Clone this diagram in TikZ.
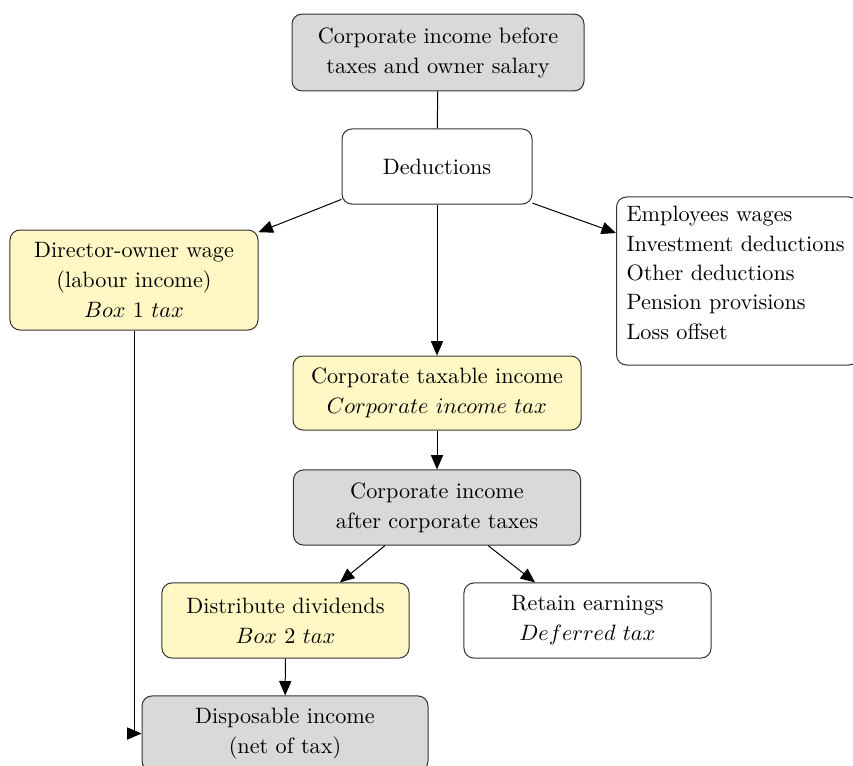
\documentclass[tikz,border=0pt]{standalone}
\usetikzlibrary{arrows.meta,calc}
\definecolor{boxgray}{RGB}{217,217,217}
\definecolor{boxyellow}{RGB}{255,248,196}
\begin{document}
\begin{tikzpicture}[x=0.45pt,y=-0.45pt,
  every node/.style={font=\fontsize{10}{13.5}\selectfont},
  basebox/.style={draw=black!80, rounded corners=4.5pt, align=center, inner sep=0pt, line width=0.45pt},
  graybox/.style={basebox, fill=boxgray},
  yellowbox/.style={basebox, fill=boxyellow},
  whitebox/.style={basebox, fill=white},
  arr/.style={-{Triangle[length=6.5pt,width=5.5pt]}, line width=0.45pt},
  con/.style={line width=0.45pt}]
\useasboundingbox (0,0) rectangle (853,765);
\node[graybox, minimum width=131.4pt, minimum height=34.6pt] (top) at (438,52.5)
  {Corporate income before\\taxes and owner salary};
\node[whitebox, minimum width=85.5pt, minimum height=33.8pt] (ded) at (437,166.5) {Deductions};
\node[yellowbox, minimum width=111.6pt, minimum height=45pt] (dir) at (134,280)
  {Director-owner wage\\(labour income)\\$Box\ 1\ tax$};
\node[whitebox, anchor=west, align=left, inner xsep=4.5pt, minimum height=75.6pt, text width=100pt,
  font=\fontsize{10}{13.2}\selectfont] (list) at (616,281)
  {\raisebox{2.8pt}[\height][\depth]{\begin{tabular}{@{}l@{}}Employees wages\\Investment deductions\\Other deductions\\Pension provisions\\Loss offset\end{tabular}}};
\node[yellowbox, minimum width=129.6pt, minimum height=33.3pt] (cti) at (437,393)
  {Corporate taxable income\\$Corporate\ income\ tax$};
\node[graybox, minimum width=129.2pt, minimum height=33.8pt] (aft) at (437,507.5)
  {Corporate income\\after corporate taxes};
\node[yellowbox, minimum width=111.2pt, minimum height=33.8pt] (div) at (285.5,620.5)
  {Distribute dividends\\$Box\ 2\ tax$};
\node[whitebox, minimum width=111.2pt, minimum height=33.8pt] (ret) at (587.5,620.5)
  {Retain earnings\\$Deferred\ tax$};
\node[graybox, minimum width=128.7pt, minimum height=33.8pt] (disp) at (285,733.5)
  {Disposable income\\(net of tax)};
\draw[con] (top) -- (ded);
\draw[arr] (ded.199) -- (dir.21);
\draw[arr] (ded.-21) -- ([yshift=21.6pt]list.west);
\draw[arr] (ded) -- (cti);
\draw[arr] (cti) -- (aft);
\draw[arr] ([xshift=-23.4pt]aft.south) -- ([xshift=24.5pt]div.north);
\draw[arr] ([xshift=23pt]aft.south) -- ([xshift=-23.6pt]ret.north);
\draw[arr] (div) -- (disp);
\draw[arr] (dir.south) |- (disp.west);
\end{tikzpicture}
\end{document}
